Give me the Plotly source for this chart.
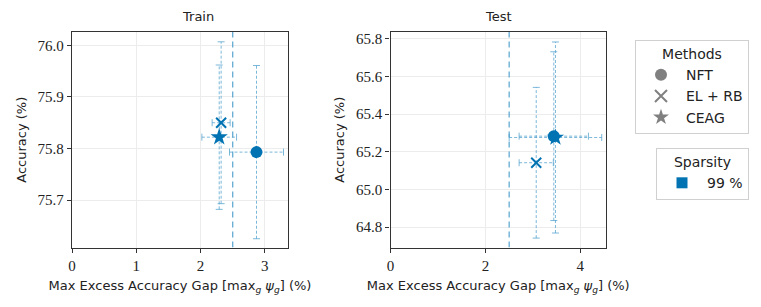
import plotly.graph_objects as go

methods = ["NFT", "EL + RB", "CEAG"]
symbols = ["circle", "x-thin", "star"]

train_gap = [2.87, 2.32, 2.29]
train_gap_err = [0.42, 0.14, 0.27]
train_acc = [75.793, 75.850, 75.822]
train_acc_err = [0.168, 0.157, 0.140]

test_gap = [3.44, 3.07, 3.475]
test_gap_err = [0.73, 0.36, 0.975]
test_acc = [65.283, 65.142, 65.276]
test_acc_err = [0.448, 0.40, 0.507]

threshold = 2.5
sparsity_label = "99 %"

W, H = 761, 307
BLUE = "#0173B2"
ERR = "rgba(80,160,205,0.75)"
GRAY = "#808080"

panels = [
    dict(name="Train", gap=train_gap, gerr=train_gap_err, acc=train_acc, aerr=train_acc_err,
         xr=[0, 3.36], yr=[75.608, 76.026], xd=[72 / W, 288 / W], xt=[0, 1, 2, 3],
         yt=[75.7, 75.8, 75.9, 76.0], xa="x", ya="y"),
    dict(name="Test", gap=test_gap, gerr=test_gap_err, acc=test_acc, aerr=test_acc_err,
         xr=[0, 4.54], yr=[64.692, 65.836], xd=[390.5 / W, 606 / W], xt=[0, 2, 4],
         yt=[64.8, 65.0, 65.2, 65.4, 65.6, 65.8], xa="x2", ya="y2"),
]
yd = [1 - 247.5 / H, 1 - 32 / H]

fig = go.Figure()
cap_px = 3.5
draw_order = [2, 1, 0]
for p in panels:
    xpx = (p["xd"][1] - p["xd"][0]) * W / (p["xr"][1] - p["xr"][0])
    ypx = (yd[1] - yd[0]) * H / (p["yr"][1] - p["yr"][0])
    cx = cap_px / xpx
    cy = cap_px / ypx
    sx, sy, kx, ky = [], [], [], []
    for i in draw_order:
        x, y, ex, ey = p["gap"][i], p["acc"][i], p["gerr"][i], p["aerr"][i]
        sx += [x, x, None, x - ex, x + ex, None]
        sy += [y - ey, y + ey, None, y, y, None]
        kx += [x - cx, x + cx, None, x - cx, x + cx, None,
               x - ex, x - ex, None, x + ex, x + ex, None]
        ky += [y - ey, y - ey, None, y + ey, y + ey, None,
               y - cy, y + cy, None, y - cy, y + cy, None]
    fig.add_trace(go.Scatter(x=sx, y=sy, mode="lines", line=dict(color=ERR, width=1, dash="3px,2px"),
                             xaxis=p["xa"], yaxis=p["ya"], showlegend=False, hoverinfo="skip"))
    fig.add_trace(go.Scatter(x=kx, y=ky, mode="lines", line=dict(color=ERR, width=1),
                             xaxis=p["xa"], yaxis=p["ya"], showlegend=False, hoverinfo="skip"))
    fig.add_trace(go.Scatter(x=[threshold, threshold], y=p["yr"], mode="lines",
                             line=dict(color="rgba(60,150,200,0.8)", width=1.3, dash="6px,4px"),
                             xaxis=p["xa"], yaxis=p["ya"], showlegend=False, hoverinfo="skip"))
    for i in draw_order:
        sym = symbols[i]
        size = {"circle": 12, "x-thin": 10, "star": 13}[sym]
        fig.add_trace(go.Scatter(
            x=[p["gap"][i]], y=[p["acc"][i]], mode="markers",
            marker=dict(symbol=sym, size=size, color=BLUE,
                        line=dict(color=BLUE, width=2 if sym == "x-thin" else 0)),
            xaxis=p["xa"], yaxis=p["ya"], showlegend=False))

# legends
for m, s in zip(methods, symbols):
    fig.add_trace(go.Scatter(x=[None], y=[None], mode="markers", name=m, legend="legend",
                             marker=dict(symbol=s, size=12, color=GRAY,
                                         line=dict(color=GRAY, width=1.5 if s == "x-thin" else 0))))
fig.add_trace(go.Scatter(x=[None], y=[None], mode="markers", name=sparsity_label, legend="legend2",
                         marker=dict(symbol="square", size=11, color=BLUE)))

tickfont = dict(family="Liberation Serif, DejaVu Serif, serif", size=15, color="#222")
labfont = dict(family="DejaVu Sans", size=13, color="#222")
legfont = dict(family="DejaVu Sans", size=14, color="#222")

layout = dict(
    width=W, height=H, margin=dict(l=0, r=0, t=0, b=0, autoexpand=False),
    plot_bgcolor="white", paper_bgcolor="white",
    font=labfont,
    legend=dict(title=dict(text="Methods", side="top center", font=legfont), font=legfont,
                x=749 / W, xanchor="right", y=1 - 40 / H, yanchor="top", itemwidth=40,
                bordercolor="#d0d0d0", borderwidth=1, bgcolor="white", itemsizing="constant"),
    legend2=dict(title=dict(text="Sparsity", side="top center", font=legfont), font=legfont,
                 x=749 / W, xanchor="right", y=1 - 148 / H, yanchor="top", itemwidth=40,
                 bordercolor="#d0d0d0", borderwidth=1, bgcolor="white"),
)
axcommon = dict(showgrid=True, gridcolor="#ececec", gridwidth=1, zeroline=False,
                showline=True, linecolor="#333", linewidth=1.3, mirror=True,
                ticks="outside", ticklen=4, tickcolor="#333", tickfont=tickfont)
annotations = []
for k, p in enumerate(panels):
    xk = "xaxis" if k == 0 else "xaxis2"
    yk = "yaxis" if k == 0 else "yaxis2"
    layout[xk] = dict(axcommon, domain=p["xd"], range=p["xr"], tickvals=p["xt"],
                      anchor=p["ya"],
                      title=dict(text="Max Excess Accuracy Gap [max<sub><i>g</i></sub> <i>ψ<sub>g</sub></i>] (%)",
                                 font=labfont, standoff=8))
    layout[yk] = dict(axcommon, domain=yd, range=p["yr"], tickvals=p["yt"], tickformat=".1f",
                      anchor=p["xa"], title=dict(text="Accuracy (%)", font=labfont, standoff=8))
    annotations.append(dict(text=p["name"], x=sum(p["xd"]) / 2, y=1 - 16 / H, xref="paper",
                            yref="paper", showarrow=False, font=labfont, yanchor="middle"))
layout["annotations"] = annotations
fig.update_layout(**layout)
fig.write_html("out.html", config={"displayModeBar": False},
               post_script="document.body.style.margin='0px';")
